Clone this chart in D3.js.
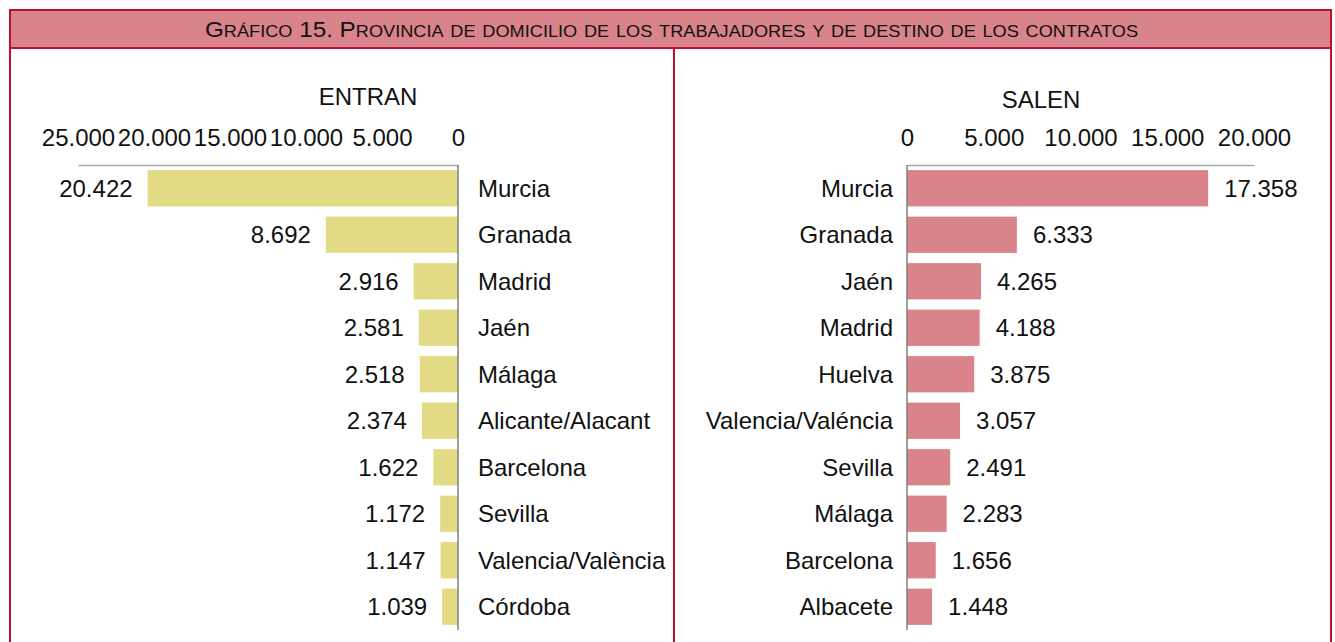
<!DOCTYPE html>
<html>
<head>
<meta charset="utf-8">
<script src="https://cdn.jsdelivr.net/npm/d3@7"></script>
<style>
  body { margin: 0; background: #fff; }
  text { font-family: "Liberation Sans", Arial, sans-serif; fill: #111; }
  .axis .domain { stroke: #a6a6a6; stroke-width: 1.5; }
  .axis text { font-size: 24px; fill: #111; }
</style>
</head>
<body>
<svg id="vis" width="1335" height="642"></svg>
<script>
// ENTRAN: province of residence of workers coming in
var entranCats = ["Murcia", "Granada", "Madrid", "Jaén", "Málaga", "Alicante/Alacant", "Barcelona", "Sevilla", "Valencia/València", "Córdoba"];
var entranVals = [20422, 8692, 2916, 2581, 2518, 2374, 1622, 1172, 1147, 1039];
var entranTicks = [0, 5000, 10000, 15000, 20000, 25000];

// SALEN: destination province of contracts going out
var salenCats = ["Murcia", "Granada", "Jaén", "Madrid", "Huelva", "Valencia/Valéncia", "Sevilla", "Málaga", "Barcelona", "Albacete"];
var salenVals = [17358, 6333, 4265, 4188, 3875, 3057, 2491, 2283, 1656, 1448];
var salenTicks = [0, 5000, 10000, 15000, 20000];

var title = "Gráfico 15. Provincia de domicilio de los trabajadores y de destino de los contratos";

var red = "#bd0f2f",
    pink = "#d9838b",
    yellow = "#e3da86",
    fs = "24px";

var fmt = function(v) { return d3.format(",")(v).replace(/,/g, "."); };

var svg = d3.select("#vis");

// frame + title band
svg.append("rect")
    .attr("x", 10).attr("y", 10)
    .attr("width", 1321).attr("height", 38)
    .attr("fill", pink);
svg.append("path")
    .attr("d", "M10,660 V10 H1331 V660 M10,48 H1331 M674,48 V660")
    .attr("fill", "none")
    .attr("stroke", red)
    .attr("stroke-width", 2);

// small caps by hand: lowercase runs drawn as smaller capitals
var runs = title.match(/[a-záéíóúàèñ]+|[^a-záéíóúàèñ]+/g);
var tt = svg.append("text")
    .attr("x", 205).attr("y", 37)
    .attr("textLength", 933)
    .attr("lengthAdjust", "spacingAndGlyphs");
tt.selectAll("tspan")
    .data(runs)
    .enter().append("tspan")
    .style("font-size", function(d) { return /[a-záéíóúàèñ]/.test(d[0]) ? "16.5px" : "22px"; })
    .text(function(d) { return d.toUpperCase(); });

var y = d3.scaleBand()
    .domain(d3.range(10))
    .range([165, 630])
    .paddingInner(0.22)
    .paddingOuter(0.11);

function panel(cats, vals, ticks, x, side, color, name, nameX, nameY) {
    var g = svg.append("g");
    var zero = x(0);

    g.append("text")
        .attr("x", nameX).attr("y", nameY)
        .attr("text-anchor", "middle")
        .style("font-size", fs)
        .text(name);

    g.selectAll(".bar")
        .data(vals)
        .enter().append("rect")
        .attr("class", "bar")
        .attr("x", function(d) { return Math.min(x(d), zero); })
        .attr("y", function(d, i) { return y(i); })
        .attr("width", function(d) { return Math.abs(x(d) - zero); })
        .attr("height", y.bandwidth())
        .attr("fill", color);

    var axis = d3.axisTop(x).tickValues(ticks).tickSize(0).tickPadding(19).tickFormat(fmt);
    g.append("g")
        .attr("class", "axis")
        .attr("transform", "translate(0,165)")
        .call(axis)
        .call(function(a) { a.selectAll("text").style("font-family", null); });

    g.append("line")
        .attr("x1", zero).attr("x2", zero)
        .attr("y1", 165).attr("y2", 630)
        .attr("stroke", "#7f7f7f")
        .attr("stroke-width", 1.5);

    // values
    g.selectAll(".val")
        .data(vals)
        .enter().append("text")
        .attr("class", "val")
        .attr("x", function(d) { return side < 0 ? x(d) - 15 : x(d) + 16; })
        .attr("y", function(d, i) { return y(i) + y.bandwidth() / 2; })
        .attr("dy", "0.36em")
        .attr("text-anchor", side < 0 ? "end" : "start")
        .style("font-size", fs)
        .text(fmt);

    // categories
    g.selectAll(".cat")
        .data(cats)
        .enter().append("text")
        .attr("class", "cat")
        .attr("x", side < 0 ? zero + 20 : zero - 14)
        .attr("y", function(d, i) { return y(i) + y.bandwidth() / 2; })
        .attr("dy", "0.36em")
        .attr("text-anchor", side < 0 ? "start" : "end")
        .style("font-size", fs)
        .text(function(d) { return d; });
}

var xL = d3.scaleLinear().domain([0, 25000]).range([458, 78]);
var xR = d3.scaleLinear().domain([0, 20000]).range([907, 1254]);

panel(entranCats, entranVals, entranTicks, xL, -1, yellow, "ENTRAN", 368, 105);
panel(salenCats, salenVals, salenTicks, xR, 1, pink, "SALEN", 1041, 108);
</script>
</body>
</html>
